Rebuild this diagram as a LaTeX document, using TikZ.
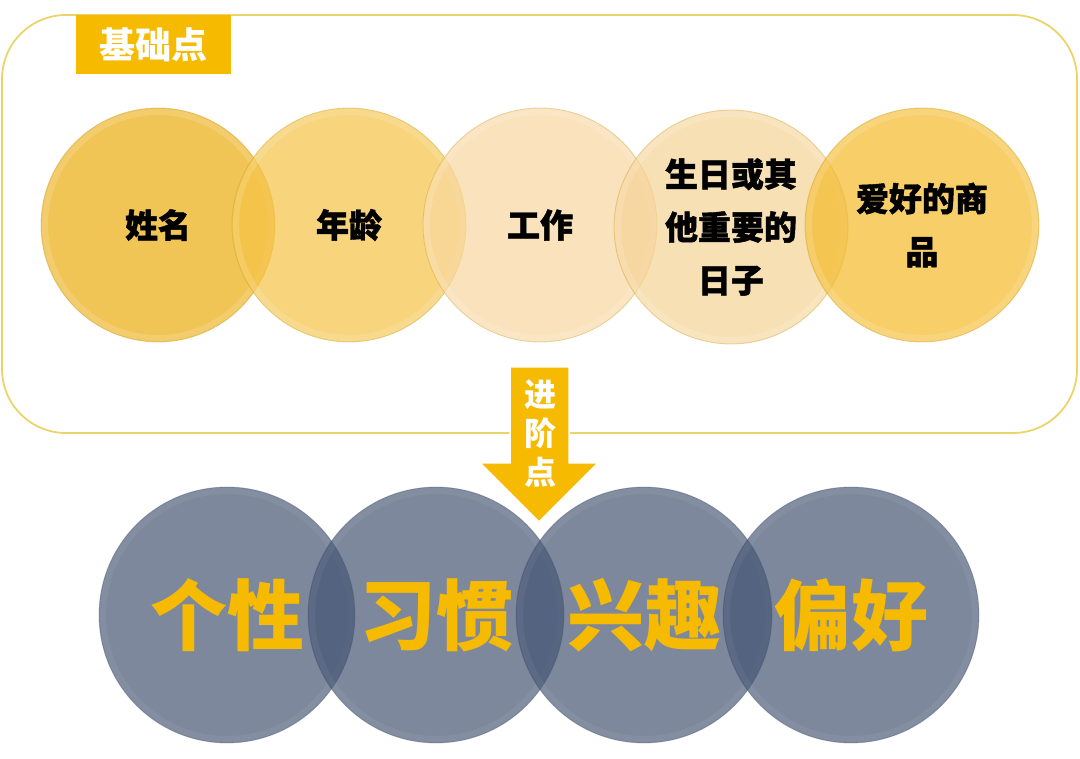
\documentclass[tikz,border=0pt]{standalone}
\usepackage{fontspec}
\newfontfamily\cjk{Noto Sans CJK SC}
\newfontfamily\cjkh{Noto Sans CJK SC}[BoldFeatures={FakeBold=1.3}]
\definecolor{goldc}{RGB}{246,186,0}
\definecolor{framec}{RGB}{236,212,104}
\definecolor{ca}{RGB}{234,172,14}
\definecolor{cb}{RGB}{246,196,70}
\definecolor{cc}{RGB}{249,216,160}
\definecolor{cd}{RGB}{246,211,150}
\definecolor{ce}{RGB}{244,186,40}
\definecolor{cg}{RGB}{67,83,114}
\definecolor{rimc}{RGB}{200,160,50}
\tikzset{
  topc/.style={circle, minimum size=234pt, inner sep=0pt, fill opacity=0.7, text opacity=1,
    draw=rimc, draw opacity=0.4, line width=0.8pt, align=center,
    path picture={\draw[white, opacity=0.14, line width=6pt] (path picture bounding box.center) circle (113pt);},
    font=\cjkh\bfseries\fontsize{33}{53}\selectfont, text=black},
  botc/.style={circle, minimum size=256pt, inner sep=0pt, fill=cg, fill opacity=0.69, text opacity=1,
    draw=cg, draw opacity=0.3, line width=0.8pt,
    path picture={\draw[white, opacity=0.05, line width=6pt] (path picture bounding box.center) circle (124pt);},
    font=\cjk\bfseries\fontsize{77}{80}\selectfont, text=goldc},
  tag/.style={fill=goldc, text=white, inner sep=0pt, font=\cjk\bfseries\fontsize{36}{40}\selectfont}
}
\begin{document}
\begin{tikzpicture}[x=1pt,y=-1pt]
\useasboundingbox (0,0) rectangle (1080,759);
\fill[white] (0,0) rectangle (1080,759);
% frame
\draw[framec, line width=1.8pt, rounded corners=64pt] (2,15) rectangle (1077,433);
% label
\node[tag, minimum width=155pt, minimum height=59pt] (lbl) at (153.5,44.5) {基础点};
% top circles
\node[topc, fill=ca] (t1) at (158,225) {姓名};
\node[topc, fill=cb] (t2) at (349,225) {年龄};
\node[topc, fill=cc] (t3) at (540,225) {工作};
\node[topc, fill=cd] (t4) at (731,227) {生日或其\\他重要的\\日子};
\node[topc, fill=ce] (t5) at (922,225) {爱好的商\\品};
% arrow
\coordinate (ap) at (539,522);
\fill[goldc, draw=white, line width=1.5pt] (510,367) -- (569,367) -- (569,463) -- (598,463) -- (ap) -- (480,463) -- (510,463) -- cycle;
\node[text=white, font=\cjk\bfseries\fontsize{32}{39}\selectfont, align=center, inner sep=0pt] (arr) at (540,434) {进\\阶\\点};
% bottom circles
\node[botc] (b1) at (227,615) {个性};
\node[botc] (b2) at (436,615) {习惯};
\node[botc] (b3) at (644,615) {兴趣};
\node[botc] (b4) at (851,615) {偏好};
\end{tikzpicture}
\end{document}
